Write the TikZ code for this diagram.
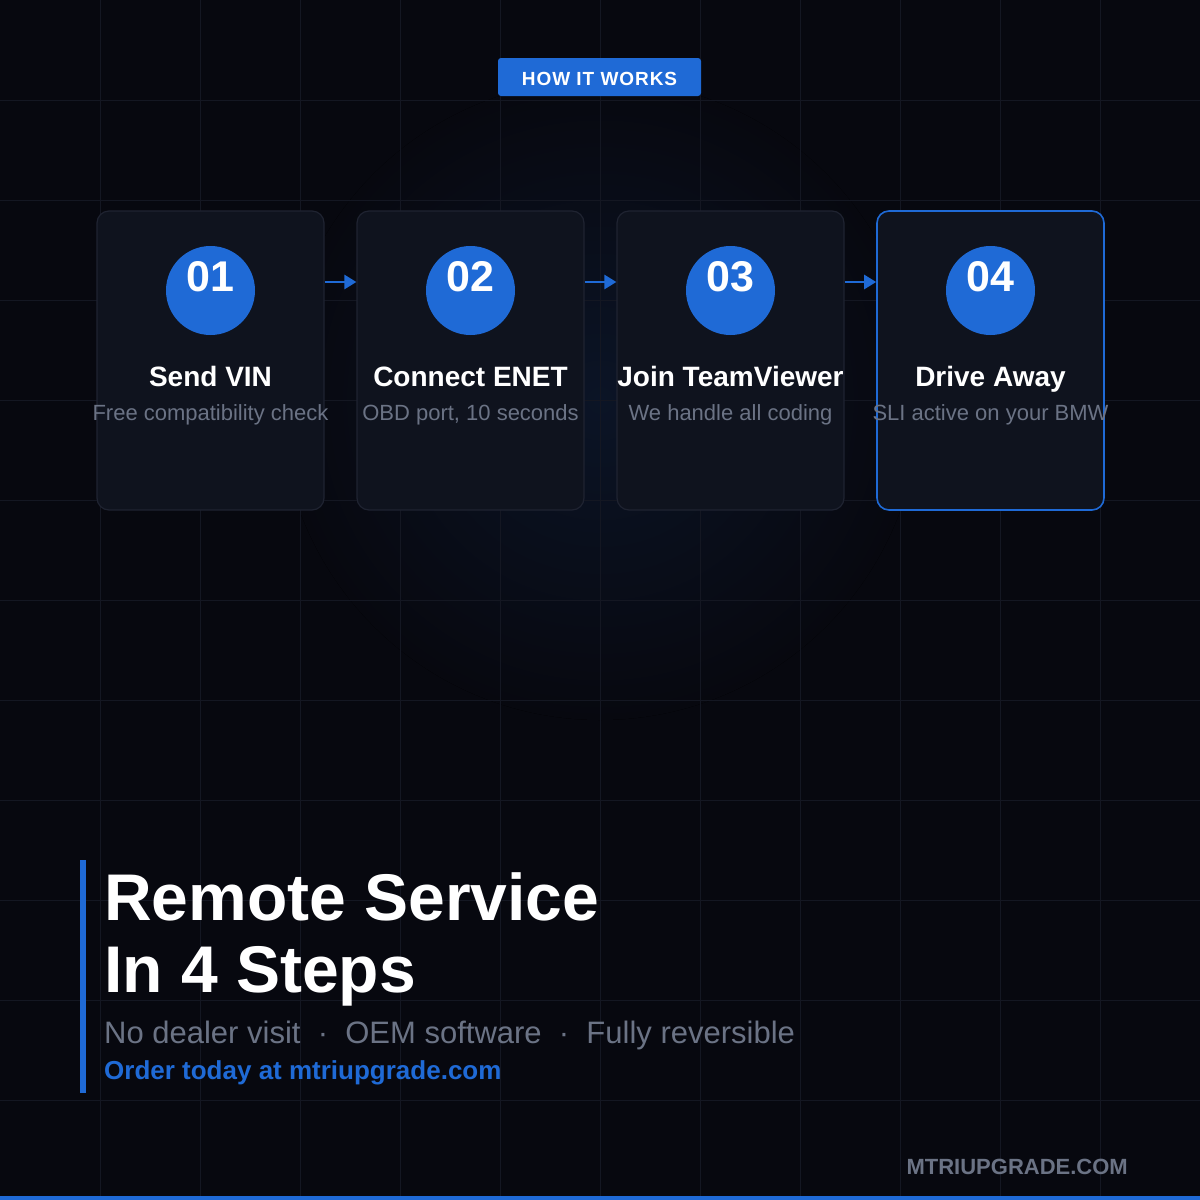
\documentclass[tikz,border=0pt]{standalone}
\usepackage{fontspec}
\setmainfont{Liberation Sans}
\usetikzlibrary{arrows.meta,calc}
\definecolor{bg}{HTML}{07080F}
\definecolor{gridc}{HTML}{141722}
\definecolor{cardfill}{HTML}{0F131E}
\definecolor{cardedge}{HTML}{1F2331}
\definecolor{accent}{HTML}{1F6AD6}
\definecolor{mutedtext}{HTML}{6B7385}
\definecolor{glow}{HTML}{0B1426}
\tikzset{
  card/.style={draw=cardedge, line width=1.2pt, fill=cardfill, rounded corners=12pt, minimum width=227pt, minimum height=299pt, inner sep=0pt},
  activecard/.style={card, draw=accent, line width=1.6pt},
  numcircle/.style={circle, fill=accent, minimum size=89pt, inner sep=0pt},
  numtext/.style={anchor=base, text=white, font=\fontsize{43}{46}\selectfont\bfseries},
  steptitle/.style={anchor=base, text=white, font=\fontsize{28}{32}\selectfont\bfseries},
  stepdesc/.style={anchor=base, text=mutedtext, font=\fontsize{22}{26}\selectfont},
  flowarrow/.style={draw=accent, line width=2.6pt, -{Triangle[length=12pt,width=14pt]}}
}
\begin{document}
\begin{tikzpicture}[x=1pt,y=-1pt]
\useasboundingbox (0,0) rectangle (1200,1200);
\fill[bg] (0,0) rectangle (1200,1200);
\fill[inner color=glow, outer color=bg] (600,400) circle (320);
% grid
\foreach \g in {100,200,...,1100}{
  \draw[gridc, line width=1pt] (\g,0) -- (\g,1200);
  \draw[gridc, line width=1pt] (0,\g) -- (1200,\g);
}
% badge
\node[fill=accent, rounded corners=3pt, minimum width=203pt, minimum height=38pt, inner sep=0pt] (badge) at (599.5,77) {};
\node[text=white, font=\fontsize{19}{21}\selectfont\bfseries\addfontfeature{LetterSpace=5}] (badgetext) at ([yshift=-2pt]badge.center) {HOW IT WORKS};
% cards
\node[card] (c1) at (210.5,360.5) {};
\node[card] (c2) at (470.5,360.5) {};
\node[card] (c3) at (730.5,360.5) {};
\node[activecard] (c4) at (990.5,360.5) {};
% circles and text
\foreach \i/\x/\n/\t/\d in {1/210.5/01/Send VIN/Free compatibility check,
                            2/470.5/02/Connect ENET/{OBD port, 10 seconds},
                            3/730.5/03/Join TeamViewer/We handle all coding,
                            4/990.5/04/Drive Away/SLI active on your BMW}{
  \node[numcircle] (n\i) at (\x,290.5) {};
  \node[numtext] (nt\i) at (\x,291) {\n};
  \node[steptitle] (st\i) at (\x,386) {\t};
  \node[stepdesc] (sd\i) at (\x,420) {\d};
}
% arrows
\draw[flowarrow] ([yshift=78.5pt]c1.east) -- ([yshift=78.5pt]c2.west);
\draw[flowarrow] ([yshift=78.5pt]c2.east) -- ([yshift=78.5pt]c3.west);
\draw[flowarrow] ([yshift=78.5pt]c3.east) -- ([yshift=78.5pt]c4.west);
% bottom block
\fill[accent] (80,860) rectangle (86,1093);
\node[anchor=base west, inner sep=0pt, text=white, font=\fontsize{66}{72}\selectfont\bfseries] (h1) at (104,920) {Remote Service};
\node[anchor=base west, inner sep=0pt, text=white, font=\fontsize{66}{72}\selectfont\bfseries] (h2) at (104,992) {In 4 Steps};
\node[anchor=base west, inner sep=0pt, text=mutedtext, font=\fontsize{31}{36}\selectfont] (sub) at (104,1043) {No dealer visit \ \textperiodcentered\ \ OEM software \ \textperiodcentered\ \ Fully reversible};
\node[anchor=base west, inner sep=0pt, text=accent, font=\fontsize{26}{30}\selectfont\bfseries] (order) at (104,1079) {Order today at mtriupgrade.com};
\node[anchor=base east, inner sep=0pt, text=mutedtext, font=\fontsize{22}{24}\selectfont\bfseries] (brand) at (1128,1174) {MTRIUPGRADE.COM};
\fill[accent] (0,1196) rectangle (1200,1200);
\end{tikzpicture}
\end{document}
